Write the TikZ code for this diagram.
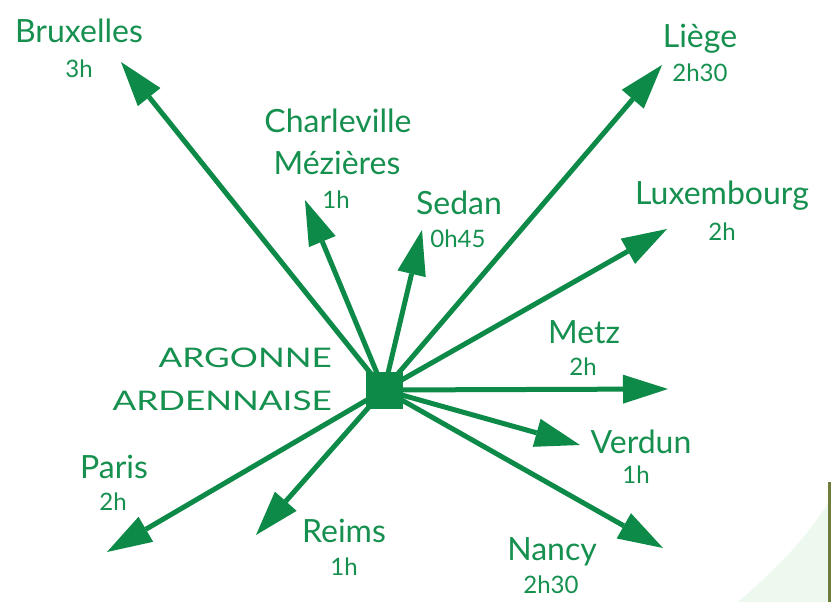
\documentclass[tikz,border=0pt]{standalone}
\usepackage{fontspec}
\setmainfont{Lato}
\usetikzlibrary{arrows.meta,backgrounds}
\definecolor{ag}{HTML}{0D8A48}
\definecolor{tg}{HTML}{16904F}
\definecolor{pale}{HTML}{EDF9EE}
\definecolor{photo}{HTML}{6E7D3C}
\begin{document}
\begin{tikzpicture}[x=1pt,y=-1pt,
  arr/.style={draw=ag, line width=5pt, -{Triangle[length=45pt,width=29pt,line width=0pt]}},
  big/.style={text=tg, anchor=base, inner sep=0pt, font=\fontsize{32}{32}\selectfont},
  small/.style={text=tg, anchor=base, inner sep=0pt, font=\fontsize{24}{24}\selectfont},
  caps/.style={text=tg, anchor=base east, inner sep=0pt, font=\fontsize{27}{27}\selectfont},
  hubbox/.style={fill=ag, minimum size=37pt, inner sep=0pt}]
\useasboundingbox (0,0) rectangle (831,602);
% hub
\node[hubbox] (hub) at (384,390) {};
% arrow tips
\coordinate (tBrux) at (121,62);
\coordinate (tChar) at (305,200);
\coordinate (tSedan) at (422,230);
\coordinate (tLiege) at (662,65);
\coordinate (tLux) at (667,229);
\coordinate (tMetz) at (668,389);
\coordinate (tVerdun) at (580,445);
\coordinate (tNancy) at (663,548);
\coordinate (tReims) at (256,535);
\coordinate (tParis) at (107,552);
\begin{scope}[on background layer]
\fill[white] (0,0) rectangle (831,602);
% decoration bottom right
\fill[pale] (738,602) .. controls (775,570) and (805,540) .. (828,503) -- (828,602) -- cycle;
\fill[photo] (828,482) rectangle (831,602);
\foreach \t in {tBrux,tChar,tSedan,tLiege,tLux,tMetz,tVerdun,tNancy,tReims,tParis}
  \draw[arr] (hub.center) -- (\t);
\end{scope}
% labels
\node[big] (bru) at (79,43) {Bruxelles};
\node[small] (bru2) at (79,78) {3h};
\node[big] (cha) at (338,132) {Charleville};
\node[big] (mez) at (337,175) {Mézières};
\node[small] (cha2) at (336,208) {1h};
\node[big] (sed) at (459,214) {Sedan};
\node[small] (sed2) at (458,247) {0h45};
\node[big] (lie) at (700,48) {Liège};
\node[small] (lie2) at (700,82) {2h30};
\node[big] (lux) at (722,204) {Luxembourg};
\node[small] (lux2) at (722,240) {2h};
\node[big] (met) at (584,343) {Metz};
\node[small] (met2) at (583,375) {2h};
\node[big] (ver) at (641,453) {Verdun};
\node[small] (ver2) at (636,483) {1h};
\node[big] (nan) at (552,560) {Nancy};
\node[small] (nan2) at (551,593) {2h30};
\node[big] (par) at (114,478) {Paris};
\node[small] (par2) at (113,510) {2h};
\node[big] (rei) at (344,542) {Reims};
\node[small] (rei2) at (344,575) {1h};
\node[caps] (arg1) at (332,367) {\scalebox{1.3}[1]{ARGONNE}};
\node[caps] (arg2) at (332,410) {\scalebox{1.3}[1]{ARDENNAISE}};
\end{tikzpicture}
\end{document}
